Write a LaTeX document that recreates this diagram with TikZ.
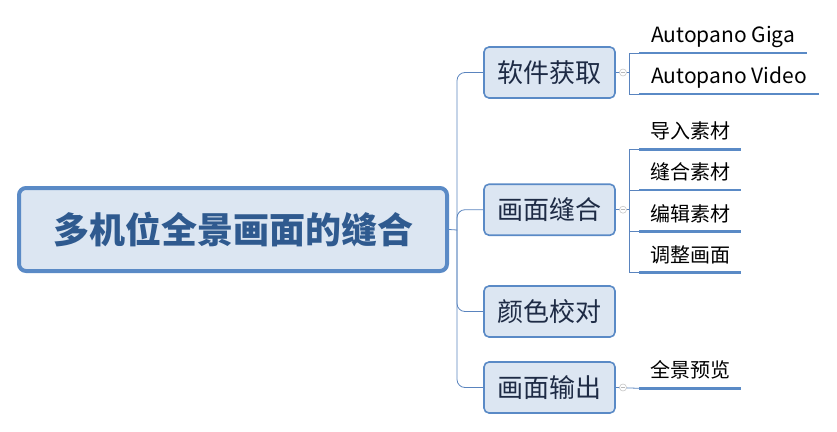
\documentclass[tikz,border=0pt]{standalone}
\usepackage{fontspec}
\setmainfont{Noto Sans CJK SC}
\usetikzlibrary{calc}
\definecolor{linkblue}{HTML}{5A84BE}
\definecolor{boxblue}{HTML}{5A8AC6}
\definecolor{boxfill}{HTML}{DCE6F2}
\definecolor{roottext}{HTML}{2F5A8F}
\definecolor{boxtext}{HTML}{1E2B45}
\begin{document}
\begin{tikzpicture}[x=1pt,y=-1pt,
    rootbox/.style={draw=boxblue,line width=4pt,fill=boxfill,rounded corners=7pt,
        minimum width=428pt,minimum height=83pt,text=roottext,
        font=\fontsize{36}{40}\selectfont\bfseries},
    topicbox/.style={draw=boxblue,line width=1.6pt,fill=boxfill,rounded corners=5pt,
        minimum width=131pt,minimum height=51pt,text=boxtext,
        font=\fontsize{26}{30}\selectfont},
    leaf/.style={anchor=south west,inner xsep=11pt,inner ysep=0pt,
        text height=15pt,text depth=10.5pt,font=\fontsize{20}{24}\selectfont},
    leaflatin/.style={leaf,inner xsep=12pt,font=\fontsize{21}{24}\selectfont},
    uline/.style={draw=boxblue,line width=2.6pt},
    link/.style={draw=linkblue,line width=0.8pt},
    fold/.style={circle,draw=gray!45,line width=0.6pt,fill=white,inner sep=0pt,
        minimum size=7pt,path picture={\draw[gray!55,line width=0.5pt]
        ([xshift=-2pt]path picture bounding box.center)--([xshift=2pt]path picture bounding box.center);}}]
        \useasboundingbox (0,0) rectangle (837,431);

        \coordinate (R) at (233,229.5);
        \coordinate (T1) at (549.5,72.5);
        \coordinate (T2) at (549.5,209.7);
        \coordinate (T3) at (549.5,311.5);
        \coordinate (T4) at (549.5,387.5);
        \coordinate (hub) at (457,230);

        % branches
        \draw[link] (R)++(216,0) -- (hub);
        \node[rootbox] (root) at (R) {多机位全景画面的缝合};
        \node[topicbox] (t1) at (T1) {软件获取};
        \node[topicbox] (t2) at (T2) {画面缝合};
        \node[topicbox] (t3) at (T3) {颜色校对};
        \node[topicbox] (t4) at (T4) {画面输出};
        \draw[link,rounded corners=8pt] (hub) |- (t1.west);
        \draw[link,rounded corners=8pt] (hub) |- (t2.west);
        \draw[link,rounded corners=8pt] (hub) |- (t3.west);
        \draw[link,rounded corners=8pt] (hub) |- (t4.west);

        % leaves
        \node[leaflatin] (g1) at (639,53) {Autopano Giga};
        \node[leaflatin] (g2) at (639,94) {Autopano Video};
        \node[leaf] (s1) at (639,149.3) {导入素材};
        \node[leaf] (s2) at (639,190) {缝合素材};
        \node[leaf] (s3) at (639,231.7) {编辑素材};
        \node[leaf] (s4) at (639,272.7) {调整画面};
        \node[leaf] (o1) at (639,388.3) {全景预览};
        \foreach \n in {g1,g2,s1,s2,s3,s4,o1}
            \draw[uline] (\n.south west) -- (\n.south east);

        \coordinate (v1) at (629,72.5);
        \coordinate (v2) at (629,209.7);
        \draw[link] (t1.east) -- (v1);
        \draw[link] (v1) |- (g1.south west);
        \draw[link] (v1) |- (g2.south west);
        \draw[link] (t2.east) -- (v2);
        \foreach \n in {s1,s2,s3,s4}
            \draw[link] (v2) |- (\n.south west);
        \draw[link] (t4.east) -- (o1.south west);

        \node[fold] (f1) at (623,72.5) {};
        \node[fold] (f2) at (623,209.7) {};
        \node[fold] (f4) at (623,387.5) {};
\end{tikzpicture}
\end{document}
